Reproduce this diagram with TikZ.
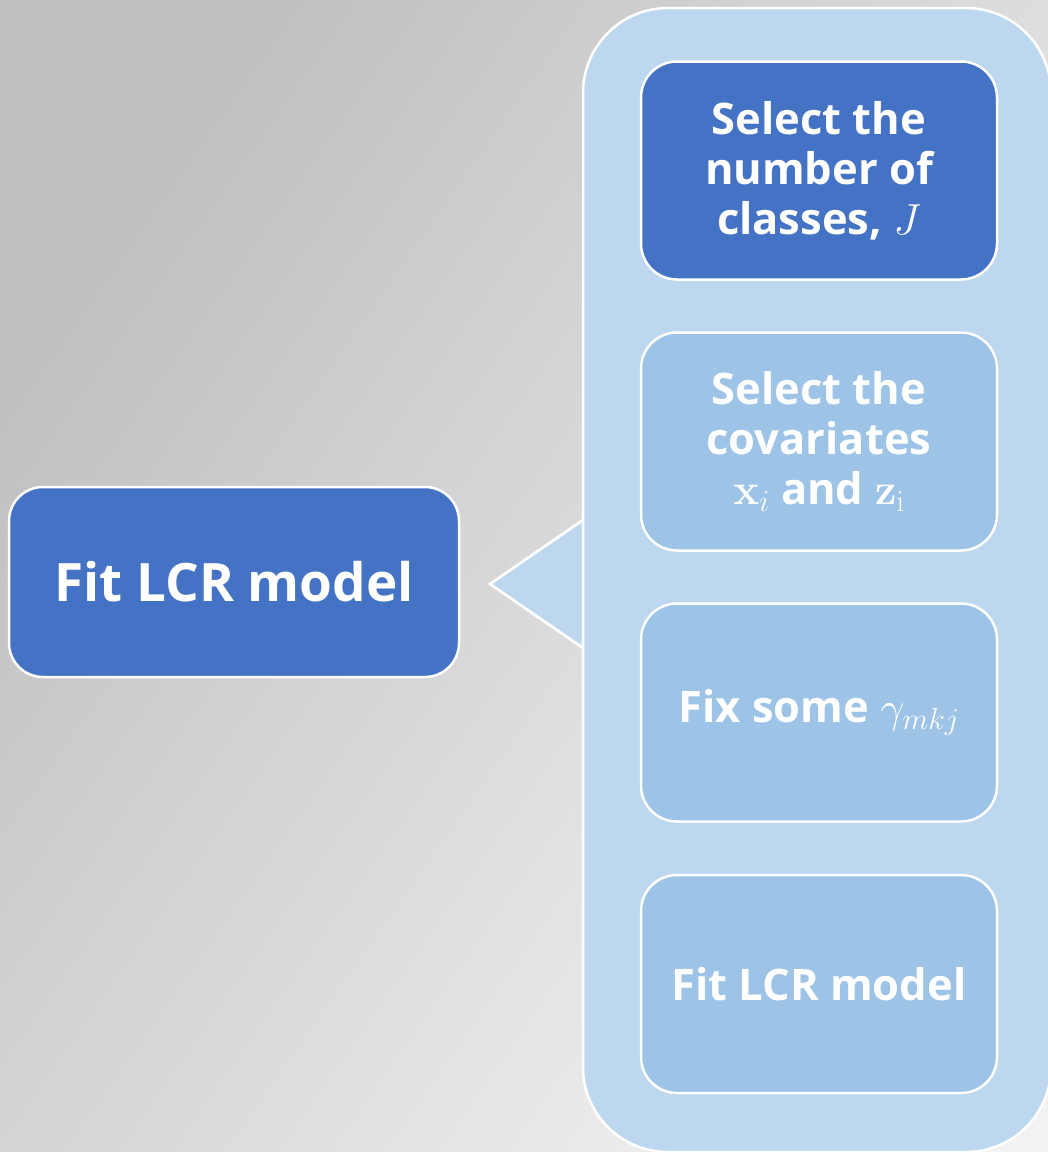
\documentclass[tikz,border=0pt]{standalone}
\usepackage{fix-cm}
\usepackage[no-math]{fontspec}
\setmainfont{Open Sans}
\usetikzlibrary{shapes.geometric}
\definecolor{darkblue}{HTML}{4472C4}
\definecolor{panelblue}{HTML}{BDD7EE}
\definecolor{itemblue}{HTML}{9DC3E6}
\definecolor{bgdark}{HTML}{BFBFBF}
\definecolor{bglight}{HTML}{F2F2F2}
\tikzset{
  x=1pt, y=-1pt,
  boxbase/.style={rectangle, draw=white, line width=2.5pt, text=white,
    font=\bfseries\fontsize{43.5}{50}\selectfont, align=center, inner sep=0pt},
  leftbox/.style={boxbase, fill=darkblue, rounded corners=34pt,
    minimum width=450pt, minimum height=190pt, font=\bfseries\fontsize{53}{60}\selectfont},
  panel/.style={rectangle, draw=white, line width=2.5pt, fill=panelblue,
    rounded corners=85pt, minimum width=468pt, minimum height=1144pt},
  itembox/.style={boxbase, fill=itemblue, rounded corners=36pt,
    minimum width=356pt, minimum height=218pt},
  firstbox/.style={itembox, fill=darkblue},
  pointer/.style={fill=panelblue, draw=white, line width=2.5pt, line join=miter},
}
\begin{document}
\begin{tikzpicture}
\useasboundingbox (0,0) rectangle (1048,1152);
\shade[top color=bgdark, bottom color=bglight, shading angle=55] (0,0) rectangle (1048,1152);

\coordinate (tip) at (490,584);
\coordinate (ptop) at (583,520);
\coordinate (pbot) at (583,648);
\fill[pointer] (tip) -- (ptop) -- (pbot) -- cycle;
\draw[pointer, fill=none] (ptop) -- (tip) -- (pbot);

\node[panel] (panel) at (817,580) {};

\node[leftbox] (fit) at (234,582) {Fit LCR model};

\node[firstbox] (s1) at (819,170.5) {Select the\\number of\\classes, $J$};
\node[itembox] (s2) at (819,441.5) {Select the\\covariates\\$\mathbf{x}_i$ and $\mathbf{z}_\mathrm{i}$};
\node[itembox] (s3) at (819,712.5) {Fix some $\gamma_{mkj}$};
\node[itembox] (s4) at (819,984) {Fit LCR model};
\end{tikzpicture}
\end{document}
